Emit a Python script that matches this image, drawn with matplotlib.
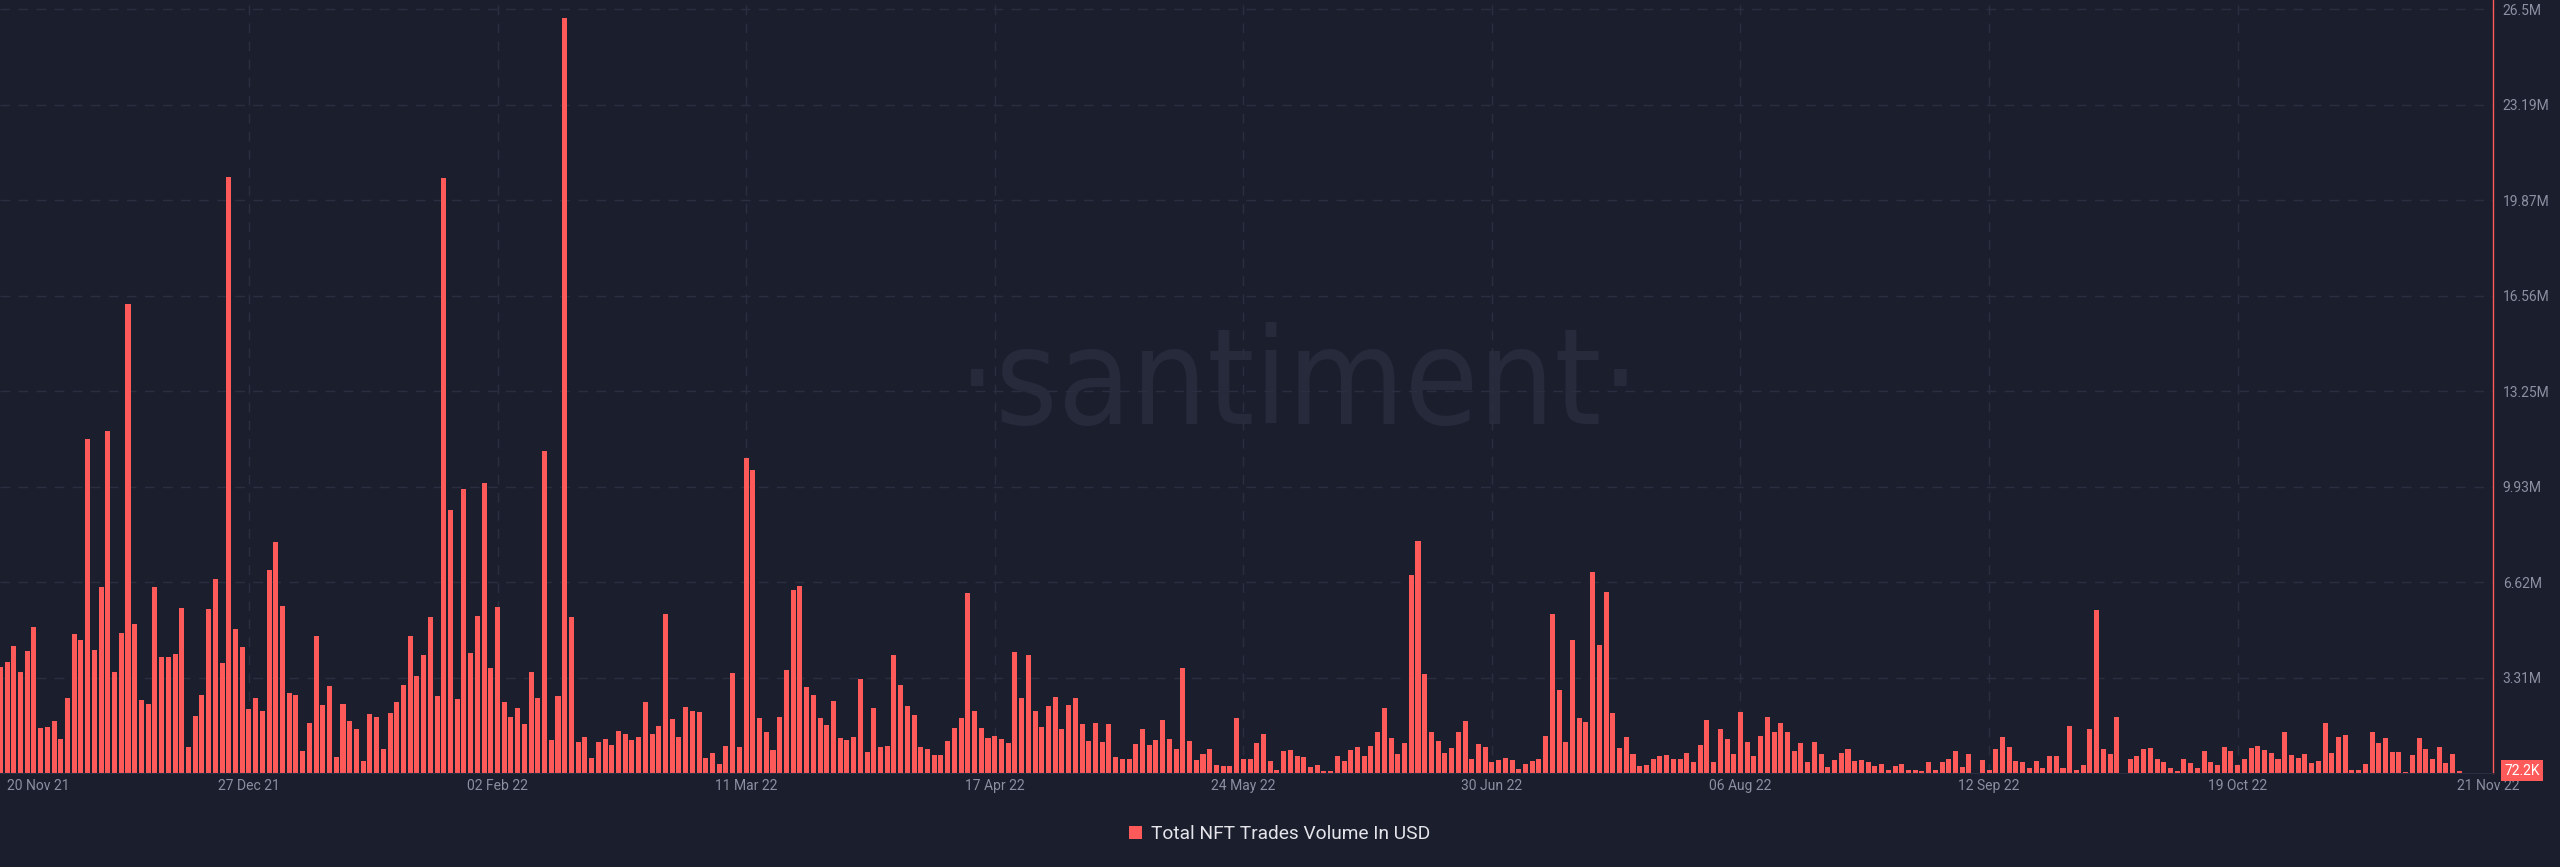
import numpy as np
import pandas as pd
import matplotlib
matplotlib.use("Agg")
import matplotlib.pyplot as plt
import matplotlib.dates as mdates

# Total NFT trades volume in USD, daily, in millions
volume_musd = [
    3.68, 3.86, 4.41, 3.49, 4.23, 5.05, 1.55, 1.61, 1.82, 1.17,
    2.62, 4.84, 4.63, 11.58, 4.28, 6.46, 11.87, 3.52, 4.85, 16.29,
    5.16, 2.54, 2.40, 6.47, 4.01, 4.01, 4.14, 5.74, 0.92, 1.99,
    2.70, 5.69, 6.72, 3.81, 20.69, 4.99, 4.38, 2.22, 2.59, 2.15,
    7.06, 8.02, 5.80, 2.76, 2.70, 0.75, 1.73, 4.74, 2.36, 3.03,
    0.54, 2.40, 1.82, 1.54, 0.42, 2.04, 1.95, 0.85, 2.07, 2.45,
    3.04, 4.77, 3.36, 4.11, 5.43, 2.66, 20.65, 9.14, 2.58, 9.86,
    4.18, 5.45, 10.06, 3.66, 5.76, 2.47, 1.94, 2.24, 1.69, 3.49,
    2.59, 11.19, 1.16, 2.67, 26.2, 5.41, 1.07, 1.24, 0.51, 1.06,
    1.19, 0.97, 1.47, 1.36, 1.14, 1.24, 2.46, 1.34, 1.64, 5.53,
    1.87, 1.24, 2.28, 2.14, 2.13, 0.53, 0.69, 0.33, 0.94, 3.48,
    0.90, 10.93, 10.50, 1.92, 1.42, 0.80, 1.94, 3.59, 6.35, 6.49,
    3.00, 2.70, 1.91, 1.66, 2.51, 1.20, 1.16, 1.25, 3.27, 0.73,
    2.25, 0.92, 0.95, 4.09, 3.05, 2.32, 2.01, 0.90, 0.85, 0.64,
    0.62, 1.12, 1.57, 1.92, 6.26, 2.14, 1.57, 1.22, 1.28, 1.18,
    1.03, 4.20, 2.59, 4.08, 2.15, 1.61, 2.34, 2.63, 1.52, 2.36,
    2.59, 1.70, 1.10, 1.74, 1.09, 1.71, 0.54, 0.49, 0.50, 0.99,
    1.51, 0.96, 1.16, 1.84, 1.18, 0.82, 3.66, 1.10, 0.44, 0.67,
    0.85, 0.29, 0.23, 0.24, 1.92, 0.49, 0.47, 1.05, 1.35, 0.42,
    0.12, 0.77, 0.81, 0.60, 0.54, 0.20, 0.27, 0.08, 0.08, 0.60,
    0.42, 0.81, 0.89, 0.58, 0.95, 1.41, 2.25, 1.22, 0.65, 1.03,
    6.86, 8.05, 3.43, 1.44, 1.12, 0.68, 0.88, 1.42, 1.79, 0.49,
    0.99, 0.90, 0.39, 0.45, 0.51, 0.44, 0.14, 0.32, 0.40, 0.49,
    1.27, 5.51, 2.88, 1.07, 4.63, 1.92, 1.78, 6.99, 4.44, 6.28,
    2.07, 0.88, 1.24, 0.65, 0.25, 0.29, 0.49, 0.60, 0.62, 0.47,
    0.49, 0.68, 0.37, 0.98, 1.84, 0.37, 1.54, 1.18, 0.66, 2.11,
    1.09, 0.58, 1.28, 1.94, 1.41, 1.73, 1.42, 0.76, 1.03, 0.39,
    1.06, 0.67, 0.20, 0.44, 0.69, 0.82, 0.40, 0.45, 0.37, 0.25,
    0.33, 0.09, 0.24, 0.30, 0.09, 0.09, 0.06, 0.37, 0.10, 0.37,
    0.49, 0.76, 0.21, 0.65, 0.0, 0.46, 0.10, 0.83, 1.26, 0.92,
    0.42, 0.39, 0.17, 0.40, 0.17, 0.59, 0.59, 0.18, 1.62, 0.09,
    0.28, 1.51, 5.64, 0.82, 0.66, 1.93, 0.0, 0.49, 0.60, 0.85,
    0.87, 0.50, 0.38, 0.17, 0.07, 0.49, 0.35, 0.17, 0.75, 0.37,
    0.29, 0.89, 0.76, 0.27, 0.50, 0.88, 0.95, 0.81, 0.69, 0.49,
    1.41, 0.62, 0.52, 0.65, 0.36, 0.40, 1.74, 0.68, 1.25, 1.32,
    0.12, 0.10, 0.33, 1.41, 1.04, 1.20, 0.73, 0.73, 0.03, 0.64,
    1.21, 0.85, 0.49, 0.91, 0.36, 0.65, 0.072,
]
start_date = "2021-11-20"

# axis ticks
ytick_values = [3.3125, 6.625, 9.9375, 13.25, 16.5625, 19.875, 23.1875, 26.5]
ytick_labels = ["3.31M", "6.62M", "9.93M", "13.25M", "16.56M", "19.87M", "23.19M", "26.5M"]
xtick_dates = ["2021-12-27", "2022-02-02", "2022-03-11", "2022-04-17", "2022-05-24",
               "2022-06-30", "2022-08-06", "2022-09-12", "2022-10-19"]
last_label = "72.2K"
legend_label = "Total NFT Trades Volume In USD"

bg = "#1b1e2d"
red = "#ff5a5a"
grey = "#8a90a2"
gridc = "#2a2e40"

dates = pd.date_range(start_date, periods=len(volume_musd), freq="D")
vol = np.array(volume_musd) * 1e6

fig = plt.figure(figsize=(25.6, 8.67), dpi=100, facecolor=bg)
ax = fig.add_axes([0, 0.1084, 2493 / 2560, 1 - 0.1084])
ax.set_facecolor(bg)

ax.bar(dates, vol, width=0.75, color=red, zorder=2, label=legend_label)

x0 = mdates.date2num(dates[0])
ax.set_xlim(x0 - 0.05, x0 + 371)
ax.set_ylim(0, 26.5e6 * 773 / 763.7)

# grid
ax.set_yticks([v * 1e6 for v in ytick_values])
ax.set_yticklabels(ytick_labels)
ax.set_xticks(pd.to_datetime(xtick_dates))
ax.xaxis.set_major_formatter(mdates.DateFormatter("%d %b %y"))
ax.grid(True, color=gridc, linestyle=(0, (7, 6)), linewidth=1.0, zorder=1)
ax.set_axisbelow(True)

ax.yaxis.tick_right()
ax.tick_params(axis="y", length=0, pad=7, labelsize=10, labelcolor=grey)
ax.tick_params(axis="x", length=0, pad=4, labelsize=10, labelcolor=grey)
for lab in ax.get_xticklabels() + ax.get_yticklabels():
    lab.set_fontfamily(["Roboto", "DejaVu Sans"])

for s in ["top", "left"]:
    ax.spines[s].set_visible(False)
ax.spines["right"].set_color(red)
ax.spines["right"].set_linewidth(1.0)
ax.spines["bottom"].set_color(gridc)

# first and last date labels
ax.annotate(dates[0].strftime("%d %b %y"), xy=(x0 + 1, 0), xycoords=("data", "axes fraction"),
            xytext=(0, -4), textcoords="offset points", ha="left", va="top",
            fontsize=10, color=grey, family=["Roboto", "DejaVu Sans"])
ax.annotate(dates[-1].strftime("%d %b %y"), xy=(mdates.date2num(dates[-1]) - 0.3, 0),
            xycoords=("data", "axes fraction"),
            xytext=(0, -4), textcoords="offset points", ha="left", va="top",
            fontsize=10, color=grey, family=["Roboto", "DejaVu Sans"])

# last value marker on the axis
ax.annotate(last_label, xy=(1, vol[-1]), xycoords=("axes fraction", "data"),
            xytext=(8, 0), textcoords="offset points", ha="left", va="center",
            fontsize=10, color="white", family=["Roboto", "DejaVu Sans"],
            bbox=dict(boxstyle="square,pad=0.25", fc=red, ec="none"),
            annotation_clip=False)

# watermark
ax.text(0.507, 1 - 424 / 867, "\u00b7santiment\u00b7", transform=fig.transFigure,
        ha="center", va="baseline", fontsize=96, color="#262a3b",
        family="DejaVu Sans", fontstretch="condensed", zorder=0.1)

leg = fig.legend(loc="center", bbox_to_anchor=(0.5, 0.038), frameon=False,
                 handlelength=0.65, handleheight=0.65, handletextpad=0.5,
                 prop={"family": ["Roboto", "DejaVu Sans"], "size": 13.8})
for t in leg.get_texts():
    t.set_color("#e4e4ea")

fig.savefig("out.png", dpi=100, facecolor=bg)
